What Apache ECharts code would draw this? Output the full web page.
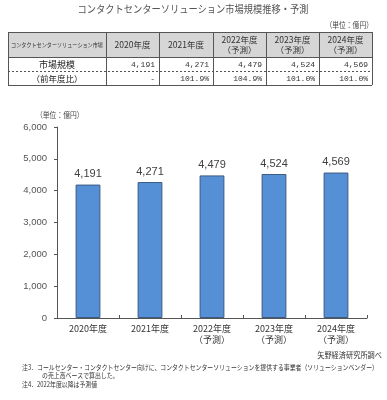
<!DOCTYPE html>
<html><head><meta charset="utf-8">
<script src="https://cdn.jsdelivr.net/npm/echarts@6/dist/echarts.min.js"></script>
<style>html,body{margin:0;padding:0;background:#fff}#c{width:387px;height:400px}</style>
</head><body><div id="c"></div>
<script>
const titleText = 'コンタクトセンターソリューション市場規模推移・予測';
const unitText = '（単位：億円）';
const tableHeaderFirst = 'コンタクトセンターソリューション市場';
const rowLabels = ['市場規模', '（前年度比）'];
const categories = ['2020年度', '2021年度', '2022年度\n（予測）', '2023年度\n（予測）', '2024年度\n（予測）'];
const marketSize = [4191, 4271, 4479, 4524, 4569];
const yoyRatio = ['-', '101.9%', '104.9%', '101.0%', '101.0%'];
const yMin = 0, yMax = 6000, yInterval = 1000;
const sourceText = '矢野経済研究所調べ';
const notes = [
  '注3．コールセンター・コンタクトセンター向けに、コンタクトセンターソリューションを提供する事業者（ソリューションベンダー）',
  'の売上高ベースで算出した。',
  '注4．2022年度以降は予測値'
];

const JP = '"Noto Sans CJK JP", "Noto Sans", sans-serif';
const fmt = v => String(v).replace(/\B(?=(\d{3})+(?!\d))/g, ',');

const colX = [8, 106, 159, 213, 266, 319, 372];
const rowY = [32, 57, 71, 85];
const lineColor = '#555';
const g = [];

function txt(x, y, text, size, opts) {
  opts = opts || {};
  return {
    type: 'text', x: x, y: y, scaleX: opts.sx || 1, silent: true,
    style: {
      text: text, x: 0, y: 0,
      font: size + 'px ' + (opts.family || JP),
      fill: opts.fill || '#333',
      textAlign: opts.align || 'center',
      textVerticalAlign: 'middle',
      lineHeight: opts.lh || size + 2
    }
  };
}
function line(x1, y1, x2, y2, dash) {
  return { type: 'line', silent: true, shape: { x1: x1, y1: y1, x2: x2, y2: y2 },
    style: { stroke: lineColor, lineWidth: 1, lineDash: dash || null } };
}

// title & unit
g.push(txt(193, 9, titleText, 10.5, { fill: '#555', sx: 0.88 }));
g.push(txt(373, 25, unitText, 8, { fill: '#444', align: 'right', sx: 0.85 }));

// table background
g.push({ type: 'rect', silent: true, shape: { x: colX[0], y: rowY[0], width: colX[6] - colX[0], height: rowY[1] - rowY[0] },
  style: { fill: '#d6d6d6' } });
g.push(line(colX[0], rowY[0] + 0.5, colX[6], rowY[0] + 0.5));
g.push(line(colX[0], rowY[1] + 0.5, colX[6], rowY[1] + 0.5));
g.push(line(colX[0], rowY[2] + 0.5, colX[6], rowY[2] + 0.5, [2, 2]));
g.push(line(colX[0], rowY[3] + 0.5, colX[6], rowY[3] + 0.5));
colX.forEach(x => g.push(line(x + 0.5, rowY[0], x + 0.5, rowY[3])));

// header texts
g.push(txt((colX[0] + colX[1]) / 2, (rowY[0] + rowY[1]) / 2, tableHeaderFirst, 6, { sx: 0.85, fill: '#333' }));
categories.forEach((c, i) => {
  const cx = (colX[i + 1] + colX[i + 2]) / 2;
  g.push(txt(cx, (rowY[0] + rowY[1]) / 2, c, 8.5, { lh: 10, fill: '#333' }));
});
// row labels
g.push(txt((colX[0] + colX[1]) / 2, (rowY[1] + rowY[2]) / 2 + 0.5, rowLabels[0], 9, { fill: '#222' }));
g.push(txt((colX[0] + colX[1]) / 2, (rowY[2] + rowY[3]) / 2 + 0.5, rowLabels[1], 8.5, { fill: '#222' }));
const MONO = '"Liberation Mono", monospace';
marketSize.forEach((v, i) => {
  g.push(txt(colX[i + 2] - 4, (rowY[1] + rowY[2]) / 2 + 0.5, fmt(v), 8, { align: 'right', fill: '#333', family: MONO }));
});
yoyRatio.forEach((v, i) => {
  g.push(txt(colX[i + 2] - 4, (rowY[2] + rowY[3]) / 2 + 0.5, v, 8, { align: 'right', fill: '#333', family: MONO }));
});

// chart unit
g.push(txt(36, 115, unitText, 8, { align: 'left', fill: '#444', sx: 0.85 }));

// source & notes
g.push(txt(382, 355, sourceText, 8, { align: 'right', fill: '#333', sx: 0.9 }));
g.push(txt(22, 367, notes[0], 7, { align: 'left', fill: '#333', sx: 0.84 }));
g.push(txt(42, 375, notes[1], 7, { align: 'left', fill: '#333', sx: 0.84 }));
g.push(txt(22, 384, notes[2], 7, { align: 'left', fill: '#333', sx: 0.84 }));

const chart = echarts.init(document.getElementById('c'), null, { renderer: 'canvas' });
chart.setOption({
  backgroundColor: '#fff',
  animation: false,
  grid: { left: 57, right: 20, top: 127, bottom: 82, containLabel: false },
  xAxis: {
    type: 'category', data: categories,
    axisLine: { lineStyle: { color: '#555', width: 1 } },
    axisTick: { show: true, length: 3, inside: true, lineStyle: { color: '#555' } },
    axisLabel: { color: '#333', fontSize: 9, fontFamily: JP, lineHeight: 11, margin: 5 }
  },
  yAxis: {
    type: 'value', min: yMin, max: yMax, interval: yInterval,
    splitLine: { show: false },
    axisLine: { show: true, lineStyle: { color: '#555', width: 1 } },
    axisTick: { show: true, length: 3, lineStyle: { color: '#555' } },
    axisLabel: { color: '#555', fontSize: 9.5, fontFamily: '"Liberation Sans", sans-serif', margin: 10, formatter: v => fmt(v) }
  },
  series: [{
    type: 'bar', data: marketSize, barWidth: '40%',
    itemStyle: { color: '#5590d6', borderColor: '#3d5a80', borderWidth: 1 },
    label: { show: true, position: 'top', distance: 5, color: '#404040', fontSize: 11,
      fontFamily: '"Liberation Sans", sans-serif', formatter: p => fmt(p.value) }
  }],
  graphic: { elements: g }
});
</script>
</body></html>
